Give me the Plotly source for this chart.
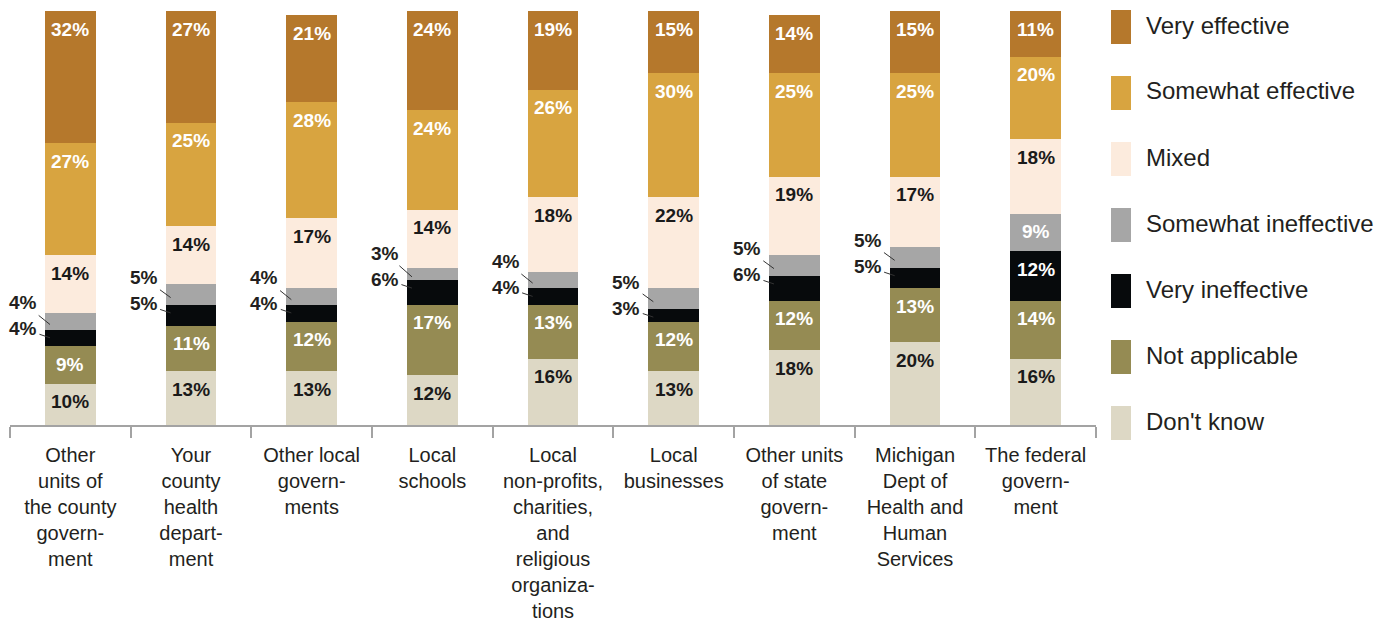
import plotly.graph_objects as go

# Survey: effectiveness of partners, share of respondents (%)
categories = [
    "Other<br>units of<br>the county<br>govern-<br>ment",
    "Your<br>county<br>health<br>depart-<br>ment",
    "Other local<br>govern-<br>ments",
    "Local<br>schools",
    "Local<br>non-profits,<br>charities,<br>and<br>religious<br>organiza-<br>tions",
    "Local<br>businesses",
    "Other units<br>of state<br>govern-<br>ment",
    "Michigan<br>Dept of<br>Health and<br>Human<br>Services",
    "The federal<br>govern-<br>ment",
]

# stacked bottom to top
dont_know = [10, 13, 13, 12, 16, 13, 18, 20, 16]
not_applicable = [9, 11, 12, 17, 13, 12, 12, 13, 14]
very_ineffective = [4, 5, 4, 6, 4, 3, 6, 5, 12]
somewhat_ineffective = [4, 5, 4, 3, 4, 5, 5, 5, 9]
mixed = [14, 14, 17, 14, 18, 22, 19, 17, 18]
somewhat_effective = [27, 25, 28, 24, 26, 30, 25, 25, 20]
very_effective = [32, 27, 21, 24, 19, 15, 14, 15, 11]

series = [
    ("Don't know", dont_know, "#DDD8C5", "#1a1a1a"),
    ("Not applicable", not_applicable, "#958B53", "#ffffff"),
    ("Very ineffective", very_ineffective, "#070A0C", "#ffffff"),
    ("Somewhat ineffective", somewhat_ineffective, "#A6A6A6", "#ffffff"),
    ("Mixed", mixed, "#FCEBDD", "#1a1a1a"),
    ("Somewhat effective", somewhat_effective, "#D8A440", "#ffffff"),
    ("Very effective", very_effective, "#B5782C", "#ffffff"),
]

W, H = 1391, 624
M_L, M_R, M_T, M_B = 10, 295, 11, 199
plot_w = W - M_L - M_R
plot_h = H - M_T - M_B
Y_MAX = 100
px_per_unit = plot_h / Y_MAX
BAR_W = 0.42

LABEL_FONT = "Liberation Sans, Arial, sans-serif"
TEXT_DARK = "#231F20"

fig = go.Figure()
for name, vals, color, _ in series:
    fig.add_trace(go.Bar(
        x=categories, y=vals, name=name, width=BAR_W,
        marker=dict(color=color, line=dict(width=0)),
        showlegend=False, hoverinfo="skip",
    ))

annotations = []
n = len(categories)
cum = [0] * n
small_idx = {"Very ineffective", "Somewhat ineffective"}
for name, vals, color, tcolor in series:
    for i, v in enumerate(vals):
        bottom = cum[i]
        top = bottom + v
        cum[i] = top
        outside = name in small_idx and (v < 7)
        if outside:
            continue
        seg_px = v * px_per_unit
        annotations.append(dict(
            x=i, y=top, xref="x", yref="y", text=f"<b>{v}%</b>",
            showarrow=False, yanchor="middle", xanchor="center",
            yshift=-min(18, seg_px / 2),
            font=dict(family=LABEL_FONT, size=19, color=tcolor),
        ))

# small segments labelled to the left of the bar with leader lines
for i in range(n):
    vi = very_ineffective[i]
    si = somewhat_ineffective[i]
    if vi >= 7 and si >= 7:
        continue
    base = dont_know[i] + not_applicable[i]
    black_top = base + vi
    grey_mid = black_top + si / 2
    bar_left = i - BAR_W / 2
    pt_x = bar_left + 5 / (plot_w / n)
    # lower label (very ineffective)
    pt_y_low = black_top - 8 / px_per_unit
    text_low_px = -1  # text centre relative to black segment top, pixels
    ay_low = (-(black_top * px_per_unit) + text_low_px) - (-(pt_y_low * px_per_unit))
    # upper label (somewhat ineffective)
    pt_y_up = grey_mid - 3 / px_per_unit
    ay_up = (-(black_top * px_per_unit) + text_low_px - 26) - (-(pt_y_up * px_per_unit))
    for val, py, ay in ((si, pt_y_up, ay_up), (vi, pt_y_low, ay_low)):
        annotations.append(dict(
            x=pt_x, y=py, xref="x", yref="y", text=f"<b>{val}%</b>",
            showarrow=True, arrowhead=0, arrowwidth=1, arrowcolor="#333333",
            ax=-27, ay=ay, standoff=0, startstandoff=1,
            font=dict(family=LABEL_FONT, size=19, color=TEXT_DARK),
        ))

# legend drawn as tall swatches with labels
shapes = []
legend_items = [s for s in reversed(series)]
for k, (name, vals, color, _) in enumerate(legend_items):
    top_px = 10 + k * 66
    bot_px = top_px + 34
    shapes.append(dict(
        type="rect", xref="paper", yref="paper",
        x0=(1111 - M_L) / plot_w, x1=(1131 - M_L) / plot_w,
        y0=(M_T + plot_h - bot_px) / plot_h, y1=(M_T + plot_h - top_px) / plot_h,
        fillcolor=color, line=dict(width=0),
    ))
    annotations.append(dict(
        x=(1144 - M_L) / plot_w, y=(M_T + plot_h - (top_px + 15)) / plot_h,
        xref="paper", yref="paper", xanchor="left", yanchor="middle",
        text=name, showarrow=False,
        font=dict(family=LABEL_FONT, size=24, color=TEXT_DARK),
    ))

fig.update_layout(
    width=W, height=H,
    margin=dict(l=M_L, r=M_R, t=M_T, b=M_B, autoexpand=False),
    barmode="stack",
    plot_bgcolor="white", paper_bgcolor="white",
    annotations=annotations, shapes=shapes,
    xaxis=dict(
        type="category", range=[-0.5, n - 0.5], automargin=False,
        showline=True, linecolor="#A3A3A3", linewidth=1.5,
        ticks="outside", tickson="boundaries", ticklen=11,
        tickcolor="#A3A3A3", tickwidth=1.5,
        ticklabelstandoff=11,
        tickfont=dict(family=LABEL_FONT, size=20, color=TEXT_DARK),
        showgrid=False, fixedrange=True,
    ),
    yaxis=dict(range=[0, Y_MAX], visible=False, showgrid=False, fixedrange=True,
               automargin=False),
    showlegend=False,
)

fig.write_html("out.html")
